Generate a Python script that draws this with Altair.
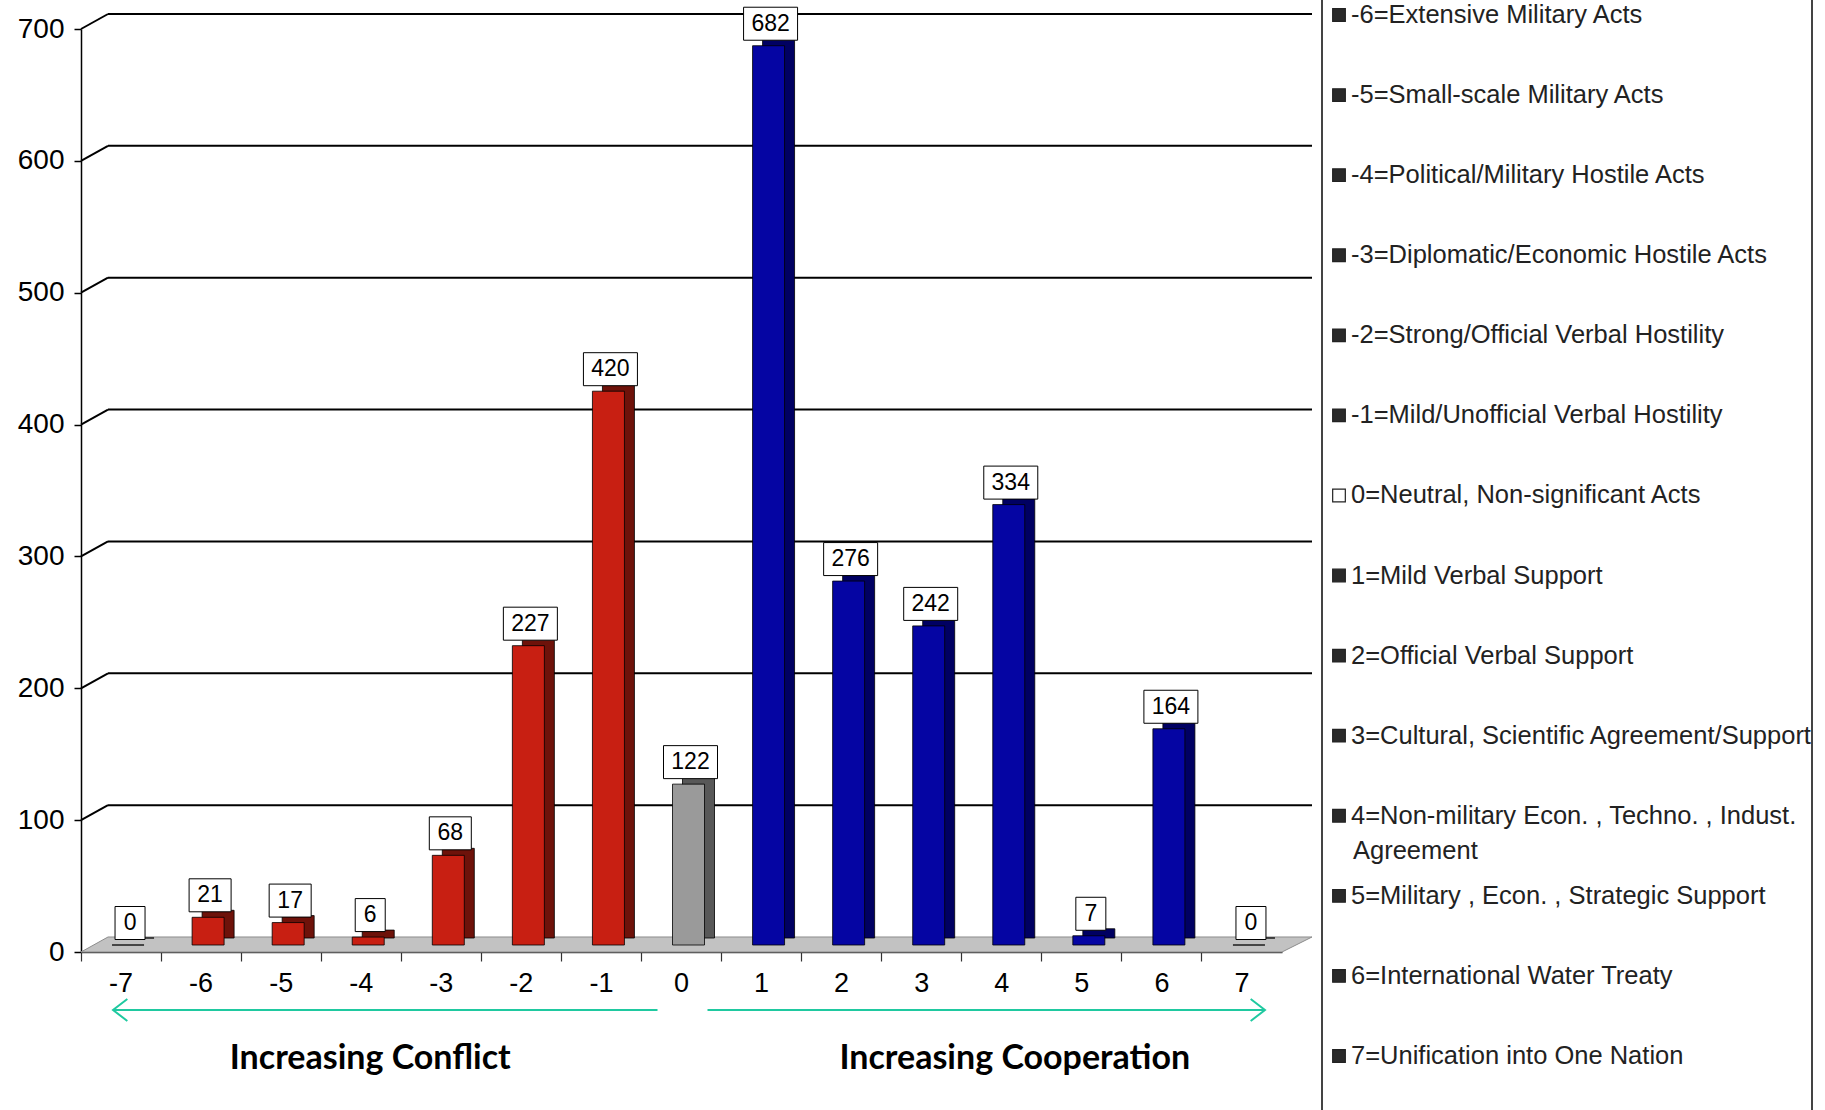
import altair as alt
import pandas as pd

# Event-intensity scale (-7 .. 7) and number of events recorded at each level
scores = ["-7", "-6", "-5", "-4", "-3", "-2", "-1", "0", "1", "2", "3", "4", "5", "6", "7"]
counts = [0, 21, 17, 6, 68, 227, 420, 122, 682, 276, 242, 334, 7, 164, 0]

# Value-axis gridlines
grid_values = [100, 200, 300, 400, 500, 600, 700]

# Legend entries (the -7 entry sits above the visible area)
legend_keys = ["-6", "-5", "-4", "-3", "-2", "-1", "0", "1", "2", "3", "4", "5", "6", "7"]
legend_text = [
    "-6=Extensive Military Acts",
    "-5=Small-scale Military Acts",
    "-4=Political/Military Hostile Acts",
    "-3=Diplomatic/Economic Hostile Acts",
    "-2=Strong/Official Verbal Hostility",
    "-1=Mild/Unofficial Verbal Hostility",
    "0=Neutral, Non-significant Acts",
    "1=Mild Verbal Support",
    "2=Official Verbal Support",
    "3=Cultural, Scientific Agreement/Support",
    "4=Non-military Econ. , Techno. , Indust.",
    "5=Military , Econ. , Strategic Support",
    "6=International Water Treaty",
    "7=Unification into One Nation",
]
legend_wrap = ["", "", "", "", "", "", "", "", "", "", "Agreement", "", "", ""]

W, H = 1201, 923
DEPTH_X, DEPTH_Y = 27, 15

def tone(s):
    v = int(s)
    return "conflict" if v < 0 else ("neutral" if v == 0 else "cooperation")

bars = pd.DataFrame({
    "score": scores,
    "count": counts,
    "tone": [tone(s) for s in scores],
    "side": [tone(s) + "_side" for s in scores],
    "digits": [str(len(str(c))) for c in counts],
})
grid = pd.DataFrame({"v": grid_values})
legend = pd.DataFrame({"key": legend_keys, "text": legend_text, "wrap": legend_wrap})

x_axis = alt.Axis(title=None, labelAngle=0, labelFontSize=27, labelFont="Liberation Sans",
                  labelColor="black", domainColor="#333333", tickColor="#333333",
                  tickSize=9, labelPadding=9, bandPosition=0,
                  grid=False, domainWidth=1.5, tickWidth=1.2)
x_scale = alt.Scale(domain=scores, paddingInner=0, paddingOuter=0)
y_axis = alt.Axis(title=None, values=grid_values + [0], labelFontSize=28,
                  labelFont="Liberation Sans", labelColor="black", tickSize=7,
                  labelPadding=10, grid=False, domainColor="black", tickColor="black",
                  domainWidth=1.5, tickWidth=1.5)
y_scale = alt.Scale(domain=[0, 700], nice=False)

X = alt.X("score:O", scale=x_scale, axis=x_axis)
Y = alt.Y("count:Q", scale=y_scale, axis=y_axis)

color_scale = alt.Scale(
    domain=["conflict", "neutral", "cooperation", "conflict_side", "neutral_side", "cooperation_side"],
    range=["#c81f12", "#9a9a9a", "#0505a3", "#6e120a", "#585858", "#000062"],
)

# Gridlines on the back wall, with the short diagonal from the value axis
grid_diag = alt.Chart(grid).mark_rule(color="black", strokeWidth=2, y2Offset=-DEPTH_Y).encode(
    x=alt.value(0), x2=alt.value(DEPTH_X),
    y=alt.Y("v:Q", scale=y_scale, axis=y_axis), y2="v:Q",
)
grid_flat = alt.Chart(grid).mark_rule(color="black", strokeWidth=2, yOffset=-DEPTH_Y).encode(
    x=alt.value(DEPTH_X), x2=alt.value(W + 30),
    y=alt.Y("v:Q", scale=y_scale, axis=y_axis),
)

# Grey floor under the bars
half = (W + 30) / 2
dy = DEPTH_Y / 2 / half
floor_path = (f"M -1 {dy:.5f} L {(W - half) / half:.5f} {dy:.5f} "
              f"L 1 {-dy:.5f} L {-1 + DEPTH_X / half:.5f} {-dy:.5f} Z")
floor = alt.Chart(pd.DataFrame({"f": [0]})).mark_point(
    shape=floor_path, filled=True, fill="#c2c2c2", stroke="#8c8c8c", strokeWidth=1,
    size=(2 * half) ** 2, opacity=1, yOffset=-DEPTH_Y / 2,
).encode(x=alt.value(half), y=alt.Y("f:Q", scale=y_scale, axis=y_axis))

# Bars: dark side/top face behind, front face on top
bar_side = alt.Chart(bars).mark_bar(
    size=32, xOffset=7 + 10, yOffset=-7 - 7, y2Offset=-7 - 7, stroke="black", strokeWidth=0.8
).encode(x=X, y=Y, color=alt.Color("side:N", scale=color_scale, legend=None))
bar_front = alt.Chart(bars).mark_bar(
    size=32, xOffset=7, yOffset=-7, y2Offset=-7, stroke="black", strokeWidth=0.8
).encode(x=X, y=Y, color=alt.Color("tone:N", scale=color_scale, legend=None))

# Boxed value labels
box_shapes = alt.Scale(
    domain=["1", "2", "3"],
    range=["M -0.5 -0.55 L 0.5 -0.55 L 0.5 0.55 L -0.5 0.55 Z",
           "M -0.7 -0.55 L 0.7 -0.55 L 0.7 0.55 L -0.7 0.55 Z",
           "M -0.9 -0.55 L 0.9 -0.55 L 0.9 0.55 L -0.9 0.55 Z"],
)
label_box = alt.Chart(bars).mark_point(
    filled=True, fill="white", stroke="black", strokeWidth=1, size=3600, opacity=1,
    xOffset=9, yOffset=-29,
).encode(x=X, y=Y, shape=alt.Shape("digits:N", scale=box_shapes, legend=None))
label_text = alt.Chart(bars).mark_text(
    font="Liberation Sans", fontSize=23, color="black", dx=9, dy=-29, baseline="middle"
).encode(x=X, y=Y, text="count:Q")

# Direction arrows and captions under the axis
ARROW = "#1fc9a0"
arrow_y = H + 58
left_arrow = alt.Chart(pd.DataFrame({"a": ["-7"], "b": ["0"]})).mark_rule(
    color=ARROW, strokeWidth=2, xOffset=-8, x2Offset=-24
).encode(x=alt.X("a:O", scale=x_scale, axis=x_axis), x2="b:O", y=alt.value(arrow_y))
right_arrow = alt.Chart(pd.DataFrame({"a": ["0"], "b": ["7"]})).mark_rule(
    color=ARROW, strokeWidth=2, xOffset=26, x2Offset=23
).encode(x=alt.X("a:O", scale=x_scale, axis=x_axis), x2="b:O", y=alt.value(arrow_y))
left_head = alt.Chart(pd.DataFrame({"a": ["-7"]})).mark_point(
    shape="M 1.3 -1 L 0 0 L 1.3 1", filled=False, stroke=ARROW, strokeWidth=2,
    size=484, opacity=1, xOffset=-8,
).encode(x=alt.X("a:O", scale=x_scale, axis=x_axis), y=alt.value(arrow_y))
right_head = alt.Chart(pd.DataFrame({"a": ["7"]})).mark_point(
    shape="M -1.3 -1 L 0 0 L -1.3 1", filled=False, stroke=ARROW, strokeWidth=2,
    size=484, opacity=1, xOffset=23,
).encode(x=alt.X("a:O", scale=x_scale, axis=x_axis), y=alt.value(arrow_y))

captions = pd.DataFrame({"at": ["-4", "4"], "text": ["Increasing Conflict", "Increasing Cooperation"]})
caption_left = alt.Chart(captions.iloc[[0]]).mark_text(
    font="Lato", fontWeight="bold", fontSize=34, color="black", dx=9, baseline="middle"
).encode(x=alt.X("at:O", scale=x_scale, axis=x_axis), y=alt.value(H + 107), text="text:N")
caption_right = alt.Chart(captions.iloc[[1]]).mark_text(
    font="Lato", fontWeight="bold", fontSize=34, color="black", dx=13, baseline="middle"
).encode(x=alt.X("at:O", scale=x_scale, axis=x_axis), y=alt.value(H + 107), text="text:N")

main = alt.layer(grid_diag, grid_flat, floor, bar_side, bar_front, label_box, label_text,
                 left_arrow, right_arrow, left_head, right_head, caption_left, caption_right)

# Legend panel on the right
legend_y = alt.Y("key:O", scale=alt.Scale(type="point", domain=legend_keys, range=[-14, 1027], padding=0),
                 axis=None)
legend_frame = alt.Chart(pd.DataFrame({"edge": [1241, 1731]})).mark_rule(
    color="#444444", strokeWidth=2
).encode(x=alt.X("edge:Q", scale=None), y=alt.value(-29), y2=alt.value(H + 158))
legend_marks = alt.Chart(legend).mark_square(size=160, stroke="#222222", strokeWidth=1.2, opacity=1).encode(
    x=alt.value(1258), y=legend_y,
    fill=alt.condition(alt.datum.key == "0", alt.value("white"), alt.value("#2a2a2a")),
)
legend_labels = alt.Chart(legend).mark_text(
    font="Liberation Sans", fontSize=25.5, color="#222222", align="left", baseline="middle"
).encode(x=alt.value(1270), y=legend_y, text="text:N")
legend_more = alt.Chart(legend).transform_filter(alt.datum.wrap != "").mark_text(
    font="Liberation Sans", fontSize=25.5, color="#222222", align="left", baseline="middle", dy=35
).encode(x=alt.value(1272), y=legend_y, text="wrap:N")

legend_layer = alt.layer(legend_frame, legend_marks, legend_labels, legend_more)

chart = alt.layer(main, legend_layer).resolve_scale(y="independent").properties(
    width=W, height=H,
    autosize=alt.AutoSizeParams(type="none"),
    padding={"left": 81, "top": 29, "right": 543, "bottom": 158},
    background="white",
).configure_view(stroke=None)

chart.save("out.html", embed_options={"renderer": "svg", "actions": False})
